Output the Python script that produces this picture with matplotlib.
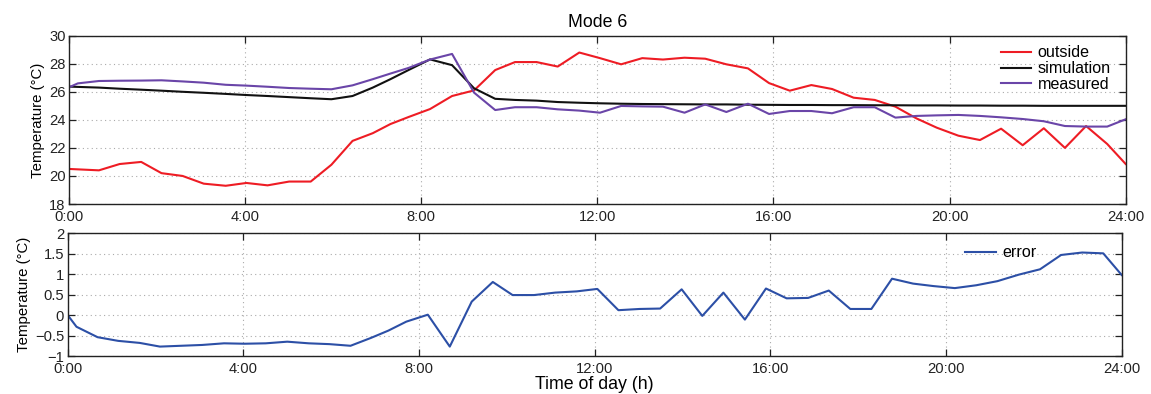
import matplotlib
matplotlib.use("Agg")
import matplotlib.pyplot as plt
from matplotlib.ticker import FixedLocator

plt.rcParams['font.family'] = ['Liberation Sans', 'DejaVu Sans']

hours = [0, 0.68, 1.15, 1.64, 2.1, 2.58, 3.06, 3.56, 4.03, 4.51, 5.0, 5.49, 5.96,
         6.44, 6.9, 7.3, 7.71, 8.2, 8.7, 9.2, 9.68, 10.13, 10.62, 11.1, 11.59,
         12.06, 12.54, 13.02, 13.49, 13.98, 14.45, 14.93, 15.42, 15.9, 16.37,
         16.86, 17.33, 17.82, 18.3, 18.77, 19.25, 19.71, 20.2, 20.69, 21.17,
         21.66, 22.14, 22.62, 23.1, 23.58, 24.0]

hours_meas = [0, 0.2, 0.68, 1.15, 1.64, 2.1, 2.58, 3.06, 3.56, 4.03, 4.51, 5.0, 5.49, 5.96,
              6.44, 6.9, 7.3, 7.71, 8.2, 8.7, 9.2, 9.68, 10.13, 10.62, 11.1, 11.59,
              12.06, 12.54, 13.02, 13.49, 13.98, 14.45, 14.93, 15.42, 15.9, 16.37,
              16.86, 17.33, 17.82, 18.3, 18.77, 19.25, 19.71, 20.2, 20.69, 21.17,
              21.66, 22.14, 22.62, 23.1, 23.58, 24.0]

outside = [20.5, 20.4, 20.85, 21.0, 20.2, 20.0, 19.45, 19.3, 19.5, 19.33, 19.6, 19.6, 20.8,
           22.5, 23.05, 23.7, 24.2, 24.77, 25.7, 26.1, 27.55, 28.12, 28.12, 27.8, 28.8,
           28.4, 27.96, 28.4, 28.3, 28.43, 28.36, 27.96, 27.67, 26.62, 26.08,
           26.48, 26.2, 25.58, 25.42, 24.94, 24.1, 23.44, 22.87, 22.56, 23.37,
           22.19, 23.4, 22.0, 23.56, 22.28, 20.85]

simulation = [26.37, 26.3, 26.22, 26.15, 26.08, 26.0, 25.93, 25.85, 25.77, 25.7, 25.62, 25.54, 25.47,
              25.7, 26.3, 26.9, 27.55, 28.31, 27.9, 26.25, 25.5, 25.42, 25.37, 25.27, 25.22,
              25.18, 25.15, 25.13, 25.12, 25.11, 25.1, 25.1, 25.08, 25.07, 25.06,
              25.06, 25.05, 25.05, 25.04, 25.04, 25.03, 25.03, 25.02, 25.02, 25.01,
              25.01, 25.0, 25.0, 25.0, 25.0, 25.0]

measured = [26.32, 26.6, 26.77, 26.79, 26.8, 26.82, 26.74, 26.65, 26.5, 26.44, 26.36, 26.27, 26.22, 26.18,
            26.46, 26.9, 27.3, 27.7, 28.3, 28.7, 25.94, 24.7, 24.9, 24.9, 24.75, 24.66,
            24.51, 24.99, 24.96, 24.94, 24.51, 25.1, 24.56, 25.15, 24.42, 24.63,
            24.63, 24.47, 24.9, 24.9, 24.16, 24.28, 24.32, 24.35, 24.28, 24.18,
            24.06, 23.9, 23.56, 23.52, 23.52, 24.04]

error = [0.0, -0.285, -0.54, -0.63, -0.68, -0.77, -0.75, -0.73, -0.69, -0.70, -0.69, -0.65, -0.69, -0.71,
         -0.75, -0.56, -0.38, -0.16, 0.01, -0.77, 0.33, 0.81, 0.49, 0.49, 0.55, 0.58,
         0.64, 0.12, 0.15, 0.16, 0.63, -0.02, 0.55, -0.11, 0.65, 0.41,
         0.42, 0.6, 0.15, 0.15, 0.89, 0.77, 0.71, 0.66, 0.73, 0.83,
         0.99, 1.12, 1.47, 1.53, 1.51, 0.98]

xticks = [0, 4, 8, 12, 16, 20, 24]
xticklabels = ["0:00", "4:00", "8:00", "12:00", "16:00", "20:00", "24:00"]
top_yticks = [18, 20, 22, 24, 26, 28, 30]
bot_yticks = [-1, -0.5, 0, 0.5, 1, 1.5, 2]
bot_yticklabels = ["\u22121", "\u22120.5", "0", "0.5", "1", "1.5", "2"]

W, H = 1151, 394
fig = plt.figure(figsize=(W / 100, H / 100), dpi=100)

ax1 = fig.add_axes([69 / W, (H - 204) / H, 1056.7 / W, 168.3 / H])
ax2 = fig.add_axes([67.7 / W, (H - 356) / H, 1054 / W, 122.7 / H])

c_out = '#ee1c24'
c_sim = '#111111'
c_meas = '#6a45a8'
c_err = '#2c4fa6'
lw = 1.5

ax1.plot(hours, outside, color=c_out, lw=lw, label='outside')
ax1.plot(hours, simulation, color=c_sim, lw=lw, label='simulation')
ax1.plot(hours_meas, measured, color=c_meas, lw=lw, label='measured')
ax2.plot(hours_meas, error, color=c_err, lw=lw, label='error')

tick_fs = 10.6
for ax in (ax1, ax2):
    ax.set_xlim(0, 24)
    ax.xaxis.set_major_locator(FixedLocator(xticks))
    ax.set_xticklabels(xticklabels)
    ax.grid(True, color='#aaaaaa', linestyle=(0, (1, 3)), linewidth=0.8)
    ax.tick_params(direction='in', top=True, right=True, length=5, width=0.9,
                   labelsize=tick_fs, colors='#222222', pad=2.5)
    ax.tick_params(axis='x', pad=4.5)
    for s in ax.spines.values():
        s.set_linewidth(1.0)
        s.set_color('#222222')

ax1.set_ylim(18, 30)
ax1.yaxis.set_major_locator(FixedLocator(top_yticks))
ax1.set_ylabel('Temperature (\u00b0C)', fontsize=10.8, labelpad=3)
ax1.set_title('Mode 6', fontsize=12.8, pad=6)
leg1 = ax1.legend(loc='upper right', frameon=False, fontsize=11.6, handlelength=1.9,
                  handletextpad=0.4, labelspacing=0.05, borderaxespad=0.2,
                  bbox_to_anchor=(0.995, 1.0))

ax2.set_ylim(-1, 2)
ax2.yaxis.set_major_locator(FixedLocator(bot_yticks))
ax2.set_yticklabels(bot_yticklabels)
ax2.set_ylabel('Temperature (\u00b0C)', fontsize=10.8, labelpad=3)
ax2.set_xlabel('Time of day (h)', fontsize=12.8, labelpad=0)
leg2 = ax2.legend(loc='upper right', frameon=False, fontsize=11.6, handlelength=1.9,
                  handletextpad=0.4, borderaxespad=0.0, bbox_to_anchor=(0.925, 0.955))

fig.savefig('out.png', dpi=100)
